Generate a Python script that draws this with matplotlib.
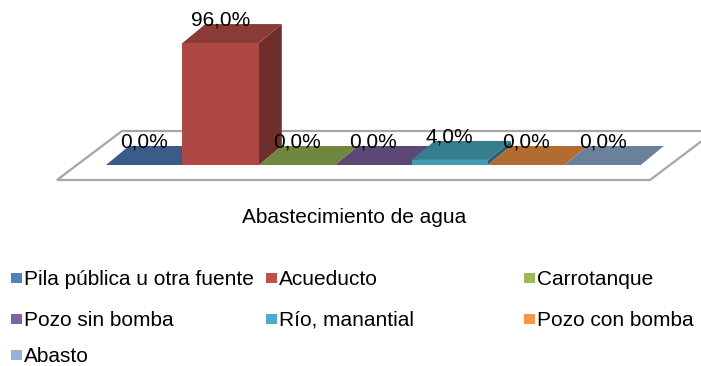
import matplotlib.pyplot as plt
from matplotlib.patches import Polygon, Rectangle
import matplotlib.colors as mcolors

plt.rcParams['font.family'] = ['Liberation Sans', 'DejaVu Sans']

categories = ['Pila pública u otra fuente', 'Acueducto', 'Carrotanque',
              'Pozo sin bomba', 'Río, manantial', 'Pozo con bomba', 'Abasto']
values = [0.0, 96.0, 0.0, 0.0, 4.0, 0.0, 0.0]
colors = ['#4F81BD', '#C0504D', '#9BBB59', '#8064A2', '#4BACC6', '#F79646', '#95B3D7']
axis_title = 'Abastecimiento de agua'

# layout in pixels
W, H = 701, 366
x0 = 106          # front-left corner of first bar
step = 76.4       # bar width (no gap)
base_y = 165      # front bottom of bars
px_per_pct = 1.27
ddx, ddy = 23, -19          # bar depth offset
fdx, fdy = 65, -49          # floor depth offset
floor_y = 180
floor_x = (57, 650)


def shade(c, f):
    r, g, b = mcolors.to_rgb(c)
    return (r * f, g * f, b * f)


fig = plt.figure(figsize=(W / 100, H / 100), dpi=100)
ax = fig.add_axes([0, 0, 1, 1])
ax.set_xlim(0, W)
ax.set_ylim(H, 0)
ax.axis('off')

# floor
floor = Polygon([(floor_x[0], floor_y), (floor_x[1], floor_y),
                 (floor_x[1] + fdx, floor_y + fdy), (floor_x[0] + fdx, floor_y + fdy)],
                closed=True, facecolor='white', edgecolor='#A6A6A6', lw=1.6)
ax.add_patch(floor)

for i, (v, c) in enumerate(zip(values, colors)):
    xl = x0 + i * step
    xr = xl + step
    yt = base_y - v * px_per_pct
    # side face
    if v > 0:
        ax.add_patch(Polygon([(xr, base_y), (xr + ddx, base_y + ddy),
                              (xr + ddx, yt + ddy), (xr, yt)],
                             closed=True, facecolor=shade(c, 0.57), edgecolor='none'))
    # top face
    ax.add_patch(Polygon([(xl, yt), (xr, yt), (xr + ddx, yt + ddy), (xl + ddx, yt + ddy)],
                         closed=True, facecolor=shade(c, 0.72), edgecolor='none'))
    # front face
    if v > 0:
        ax.add_patch(Polygon([(xl, base_y), (xr, base_y), (xr, yt), (xl, yt)],
                             closed=True, facecolor=shade(c, 0.9), edgecolor='none'))

for i, v in enumerate(values):
    xc = x0 + i * step + step / 2
    yt = base_y - v * px_per_pct + ddy
    ax.text(xc, yt - 4, f'{v:.1f}%'.replace('.', ','), ha='center', va='center',
            fontsize=15, color='black')

ax.text(354, 223, axis_title, ha='center', va='baseline', fontsize=15, color='black')

# legend
col_x = [11, 266, 524]
row_base = [285, 326, 362]
for i, (name, c) in enumerate(zip(categories, colors)):
    cx = col_x[i % 3]
    by = row_base[i // 3]
    ax.add_patch(Rectangle((cx, by - 12.5), 10.5, 10.5, facecolor=c, edgecolor='none'))
    ax.text(cx + 13, by, name, ha='left', va='baseline', fontsize=15, color='black')

fig.savefig('out.png', dpi=100)
